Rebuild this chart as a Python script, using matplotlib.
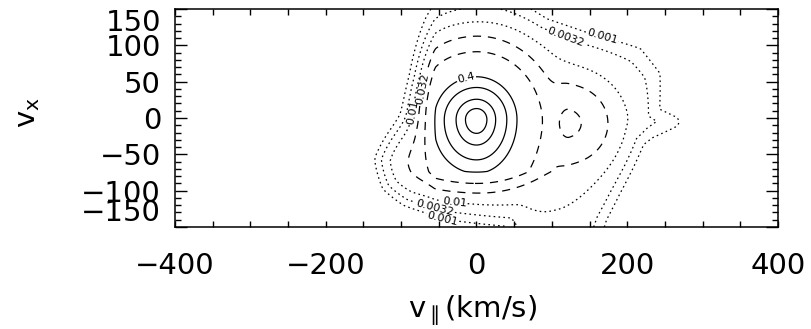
import numpy as np
import matplotlib
matplotlib.use('Agg')
import matplotlib.pyplot as plt
from matplotlib.path import Path
from matplotlib.ticker import MultipleLocator

# velocity distribution built from peaks
# core, beam, lower-left shoulder, broad background
# (height, centre v_par / v_x, 1-sigma widths on the low / high side)
comp_amp = [1.0, 0.10, 0.030, 0.014]
comp_vpar = [0.0, 123.0, -75.0, 80.0]
comp_vx = [-2.0, -7.0, -62.0, -40.0]
comp_wpar_lo = [42.0, 15.0, 30.0, 110.0]
comp_wpar_hi = [39.0, 30.0, 30.0, 110.0]
comp_wx_lo = [54.0, 30.0, 28.0, 110.0]
comp_wx_hi = [43.0, 30.0, 28.0, 100.0]
# steep flanks of the core (start of fall-off, e-folding length)
core_left_v, core_left_s = -55.0, 13.0
core_bottom_x, core_bottom_s = -74.0, 15.0

# outline of the measured region (roughly the 0.0032 contour)
edge_v = [-50, -70, -76, -88, -105, -120, -112, -90, -40, 50, 70, 150,
          158, 175, 193, 210, 228, 262, 232, 238, 215, 150, 90, 40, 0]
edge_vx = [220, 140, 57, 0, -30, -58, -90, -108, -126, -132, -170, -170,
           -135, -98, -62, -26, -15, -5, 5, 60, 92, 108, 130, 170, 220]
edge_s = 9.0

levels = [0.001, 0.0032, 0.01, 0.032, 0.1, 0.4, 0.6, 0.82, 0.95]
# contour labels: level and rough position
lab_level = [0.001, 0.0032, 0.01, 0.032, 0.4, 0.0032, 0.001, 0.01]
lab_v = [170, 122, -68, -74, -12, -55, -40, -30]
lab_vx = [125, 122, 5, 40, 48, -124, -124, -124]

xticks = [-400, -200, 0, 200, 400]
yticks = [-150, -100, -50, 0, 50, 100, 150]

# grid
v = np.linspace(-400, 400, 401)
vx = np.linspace(-150, 150, 201)
V, VX = np.meshgrid(v, vx)

f = np.zeros_like(V)
for i in range(len(comp_amp)):
    dv = V - comp_vpar[i]
    dx = VX - comp_vx[i]
    wv = np.where(dv < 0, comp_wpar_lo[i], comp_wpar_hi[i])
    wx = np.where(dx < 0, comp_wx_lo[i], comp_wx_hi[i])
    g = comp_amp[i] * np.exp(-0.5 * ((dv / wv) ** 2 + (dx / wx) ** 2))
    if i == 0:
        g = g * np.exp(-np.clip(core_left_v - V, 0, None) / core_left_s)
        g = g * np.exp(-np.clip(core_bottom_x - VX, 0, None) / core_bottom_s)
    f += g

# signed distance to the outline, positive outside
pts = np.column_stack([V.ravel(), VX.ravel()])
poly = np.column_stack([edge_v, edge_vx])
dmin = np.full(len(pts), np.inf)
for k in range(len(poly)):
    a = poly[k]
    b = poly[(k + 1) % len(poly)]
    ab = b - a
    t = np.clip(((pts - a) @ ab) / (ab @ ab), 0, 1)
    d = np.hypot(*(pts - (a + t[:, None] * ab)).T)
    dmin = np.minimum(dmin, d)
inside = Path(poly).contains_points(pts)
dist = np.where(inside, -dmin, dmin).reshape(V.shape)
f = f / (1 + np.exp(dist / edge_s))

fig = plt.figure(figsize=(8.12, 3.29), dpi=100)
ax = fig.add_axes([175 / 812, 102 / 329, 603 / 812, 218 / 329])
ax.set_xlim(-400, 400)
ax.set_ylim(-150, 150)

for lv in levels:
    if lv < 0.02:
        ls = (0, (1.3, 2.6))
    elif lv < 0.2:
        ls = (0, (6.5, 5.5))
    else:
        ls = 'solid'
    cs = ax.contour(V, VX, f, levels=[lv], colors='black', linewidths=0.9,
                    linestyles=[ls])
    pos = [(lab_v[j], lab_vx[j]) for j in range(len(lab_level))
           if lab_level[j] == lv]
    if pos:
        ax.clabel(cs, fmt='%g', fontsize=8, inline=True, inline_spacing=1,
                  manual=pos)

ax.set_xticks(xticks)
ax.set_yticks(yticks)
ax.xaxis.set_minor_locator(MultipleLocator(50))
ax.yaxis.set_minor_locator(MultipleLocator(10))
ax.tick_params(which='both', direction='in', top=True, right=True, width=1.0)
ax.tick_params(axis='x', which='both', length=4.3, pad=18, labelsize=21)
ax.tick_params(axis='y', which='major', length=8.6, pad=10, labelsize=21)
ax.tick_params(axis='y', which='minor', length=4.3)
for s in ax.spines.values():
    s.set_linewidth(1.1)

fig.canvas.draw()
ylab = ax.get_yticklabels()
ylab[-1].set_verticalalignment('top')
ylab[0].set_verticalalignment('bottom')

fig.text(472 / 812, 1 - 311 / 329, r'$\mathregular{v_{\parallel}(km/s)}$',
         ha='center', va='center', fontsize=21)
fig.text(28 / 812, 1 - 113 / 329, r'$\mathregular{v_x}$', rotation=90,
         ha='center', va='center', fontsize=21)

fig.savefig('out.png', dpi=100)
